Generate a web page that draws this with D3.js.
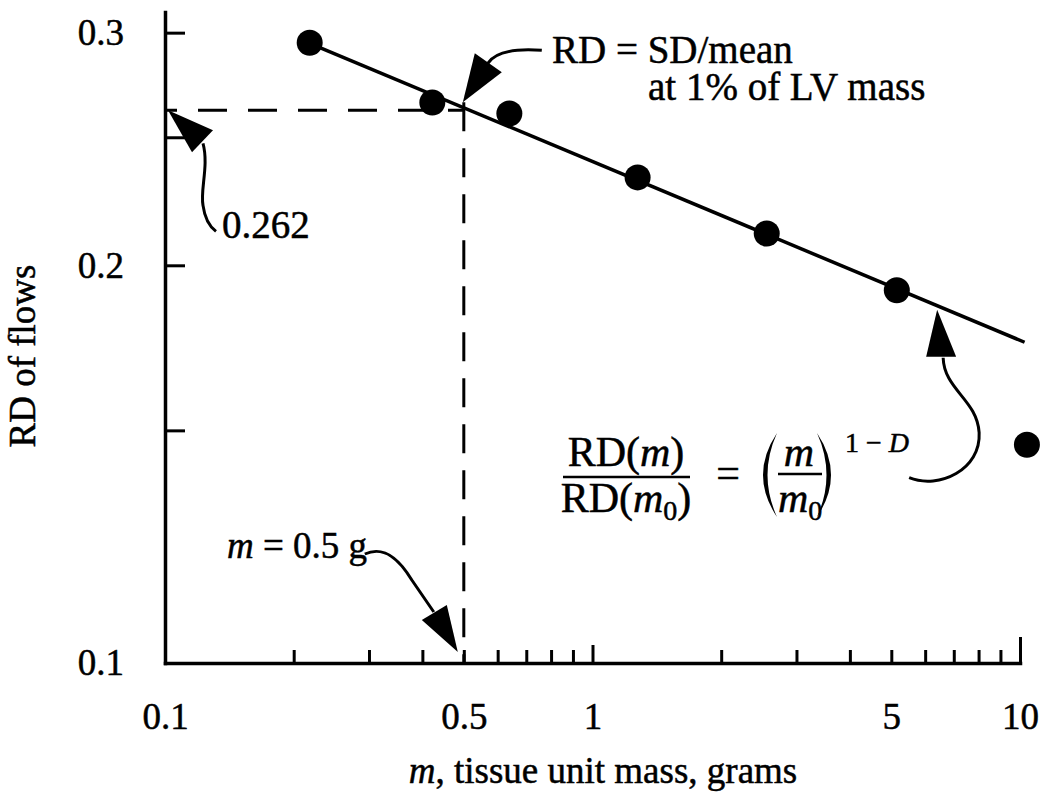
<!DOCTYPE html>
<html><head><meta charset="utf-8">
<script src="https://cdn.jsdelivr.net/npm/d3@7"></script>
<style>body{margin:0;background:#fff}svg{display:block}svg text{stroke:#000;stroke-width:0.5px}</style>
</head><body>
<svg id="c" width="1050" height="804"></svg>
<script>
// ---- data ----
const massValues = [0.218, 0.422, 0.639, 1.275, 2.556, 5.15, 10.38];
const rdValues   = [0.2948, 0.2656, 0.2606, 0.2331, 0.2114, 0.1915, 0.1463];
const fitMass = [0.218, 10.25];
const fitRD   = [0.2945, 0.1749];
const refMass = 0.5, refRD = 0.262;
const xTickValues = [0.1,0.2,0.3,0.4,0.5,0.6,0.7,0.8,0.9,1,2,3,4,5,6,7,8,9,10];
const xLabelValues = [0.1, 0.5, 1, 5, 10];
const xTickLabels  = ["0.1", "0.5", "1", "5", "10"];
const yTickValues = [0.1, 0.15, 0.2, 0.25, 0.3];
const yLabelValues = [0.1, 0.2, 0.3];
const yTickLabels  = ["0.1", "0.2", "0.3"];

const FONT = "'Liberation Serif','Times New Roman',Times,serif";
const svg = d3.select("#c");
const x = d3.scaleLog().domain([0.1, 10]).range([165, 1020]);
const y = d3.scaleLog().domain([0.1, 0.311]).range([663, 12]);

// ---- axes ----
const xAxis = d3.axisBottom(x).tickValues(xTickValues).tickSizeInner(-13).tickSizeOuter(0)
  .tickFormat(v => { const i = xLabelValues.indexOf(v); return i >= 0 ? xTickLabels[i] : ""; });
const gx = svg.append("g").attr("transform", `translate(0,${y(0.1)})`).call(xAxis);
gx.select(".domain").attr("stroke", "#000").attr("stroke-width", 3.5).attr("stroke-linecap", "square");
gx.selectAll(".tick line").attr("stroke", "#000").attr("stroke-width", 3)
  .attr("y2", d => d === 10 ? -26 : (d === 1 ? -18 : -13));
gx.selectAll(".tick text").attr("y", 66).attr("dy", 0)
  .attr("font-family", FONT).attr("font-size", 37).attr("fill", "#000");

const yAxis = d3.axisLeft(y).tickValues(yTickValues).tickSizeInner(-20).tickSizeOuter(0).tickPadding(41)
  .tickFormat(v => { const i = yLabelValues.indexOf(v); return i >= 0 ? yTickLabels[i] : ""; });
const gy = svg.append("g").attr("transform", `translate(${x(0.1)},0)`).call(yAxis);
gy.select(".domain").attr("stroke", "#000").attr("stroke-width", 3.5).attr("stroke-linecap", "square");
gy.selectAll(".tick line").attr("stroke", "#000").attr("stroke-width", 3);
gy.selectAll(".tick text").attr("font-family", FONT).attr("font-size", 37).attr("fill", "#000");

// ---- reference dashed lines ----
svg.append("line")
  .attr("x1", x(0.1)).attr("y1", y(refRD)).attr("x2", x(refMass)).attr("y2", y(refRD))
  .attr("stroke", "#000").attr("stroke-width", 3).attr("stroke-dasharray", "29,21").attr("stroke-dashoffset", 17);
svg.append("line")
  .attr("x1", x(refMass)).attr("y1", y(refRD) - 8).attr("x2", x(refMass)).attr("y2", y(0.1))
  .attr("stroke", "#000").attr("stroke-width", 3).attr("stroke-dasharray", "29,17").attr("stroke-dashoffset", 0);

// ---- fit line ----
const fitPts = fitMass.map((m, i) => [m, fitRD[i]]);
svg.append("path").datum(fitPts)
  .attr("d", d3.line().x(d => x(d[0])).y(d => y(d[1])))
  .attr("fill", "none").attr("stroke", "#000").attr("stroke-width", 3.5);

// ---- points ----
svg.selectAll("circle.pt").data(massValues).join("circle").attr("class", "pt")
  .attr("cx", d => x(d)).attr("cy", (d, i) => y(rdValues[i])).attr("r", 13).attr("fill", "#000");

// ---- annotation helpers ----
function arrow(ax, ay, curve, tri) {
  const g = svg.append("g").attr("transform", `translate(${ax},${ay})`);
  g.append("path").attr("d", curve).attr("fill", "none").attr("stroke", "#000").attr("stroke-width", 3);
  g.append("polygon").attr("points", tri.map(p => p.join(",")).join(" ")).attr("fill", "#000");
}
function txt(xp, yp, size) {
  return svg.append("text").attr("x", xp).attr("y", yp).attr("font-family", FONT)
    .attr("font-size", size).attr("fill", "#000");
}
const lineY = m => {
  const t = (Math.log(m) - Math.log(fitMass[0])) / (Math.log(fitMass[1]) - Math.log(fitMass[0]));
  return y(Math.exp(Math.log(fitRD[0]) + t * (Math.log(fitRD[1]) - Math.log(fitRD[0]))));
};

// 0.262 arrow
arrow(x(0.1), y(refRD), "M38,33 C44,55 35,80 38,95 C40,110 47,118 51,121", [[3,0],[48,20],[27,42]]);
txt(222, 238, 39).text("0.262");

// RD = SD/mean arrow
arrow(x(refMass), y(refRD), "M24,-47 C31,-58 51,-62 78,-60", [[-1,-8],[11,-57],[38,-38]]);
txt(552, 63, 39).text("RD = SD/mean");
txt(648, 100, 39).text("at 1% of LV mass");

// m = 0.5 g arrow
arrow(x(refMass), y(0.1), "M-99,-109 C-79,-118 -64,-103 -52,-83 L-30,-51", [[-6,-11],[-42,-43],[-17,-58]]);
const tm = txt(227, 558, 37);
tm.append("tspan").attr("font-style", "italic").text("m");
tm.append("tspan").text(" = 0.5 g");

// formula arrow
arrow(x(6.4), lineY(6.4), "M6,52 C7,84 40,94 42,127 C44,164 2,184 -28,172", [[0,4],[-11,51],[19,51]]);

// formula
const fs = 42;
const num = txt(626, 466, fs).attr("text-anchor", "middle");
num.append("tspan").text("RD(");
num.append("tspan").attr("font-style", "italic").text("m");
num.append("tspan").text(")");
svg.append("line").attr("x1", 563).attr("x2", 690).attr("y1", 477).attr("y2", 477)
  .attr("stroke", "#000").attr("stroke-width", 2.5);
const den = txt(626, 512, fs).attr("text-anchor", "middle");
den.append("tspan").text("RD(");
den.append("tspan").attr("font-style", "italic").text("m");
den.append("tspan").attr("font-size", 28).attr("dy", 8).text("0");
den.append("tspan").attr("dy", -8).text(")");
txt(728, 487, fs).attr("text-anchor", "middle").text("=");
svg.append("path").attr("d", "M777,433 Q749,475 777,517 Q758,475 777,433 Z").attr("fill", "#000");
svg.append("path").attr("d", "M817,433 Q845,475 817,517 Q836,475 817,433 Z").attr("fill", "#000");
txt(799, 466, fs).attr("text-anchor", "middle").attr("font-style", "italic").text("m");
svg.append("line").attr("x1", 778).attr("x2", 822).attr("y1", 474).attr("y2", 474)
  .attr("stroke", "#000").attr("stroke-width", 2.5);
const m0 = txt(778, 512, fs);
m0.append("tspan").attr("font-style", "italic").text("m");
m0.append("tspan").attr("font-size", 28).attr("dy", 8).text("0");
const ex = txt(845, 452, 28);
ex.append("tspan").text("1 \u2212 ");
ex.append("tspan").attr("font-style", "italic").text("D");

// ---- axis titles ----
const xt = txt(603, 783, 37).attr("text-anchor", "middle");
xt.append("tspan").attr("font-style", "italic").text("m");
xt.append("tspan").text(", tissue unit mass, grams");
svg.append("text").attr("transform", "translate(35,356) rotate(-90)").attr("text-anchor", "middle")
  .attr("font-family", FONT).attr("font-size", 37).attr("fill", "#000").text("RD of flows");
</script>
</body></html>
